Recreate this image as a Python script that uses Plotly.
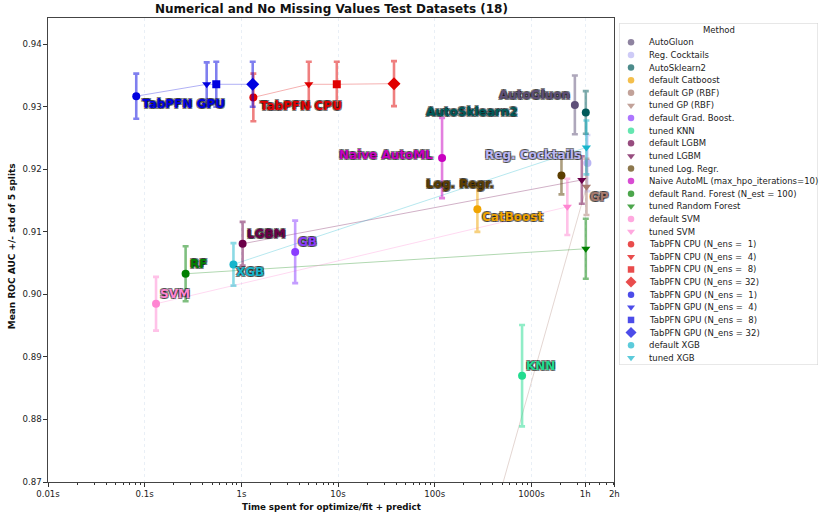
import math
import plotly.graph_objects as go

# ---------------- data ----------------
methods = [
    "AutoGluon", "Reg. Cocktails", "AutoSklearn2", "default Catboost",
    "default GP (RBF)", "tuned GP (RBF)", "default Grad. Boost.", "tuned KNN",
    "default LGBM", "tuned LGBM", "tuned Log. Regr.",
    "Naive AutoML (max_hpo_iterations=10)",
    "default Rand. Forest (N_est = 100)", "tuned Random Forest",
    "default SVM", "tuned SVM",
    "TabPFN CPU (N_ens = \u00a01)", "TabPFN CPU (N_ens = \u00a04)",
    "TabPFN CPU (N_ens = \u00a08)", "TabPFN CPU (N_ens = 32)",
    "TabPFN GPU (N_ens = \u00a01)", "TabPFN GPU (N_ens = \u00a04)",
    "TabPFN GPU (N_ens = \u00a08)", "TabPFN GPU (N_ens = 32)",
    "default XGB", "tuned XGB",
]
times = [
    2812, 3794, 3648, 276,
    230, 3707, 3.6, 800,
    1.03, 3319, 2044,
    119,
    0.265, 3648,
    0.131, 2350,
    1.33, 4.98, 9.7, 37.9,
    0.0818, 0.438, 0.55, 1.31,
    0.828, 3700,
]
aucs = [
    0.9303, 0.9210, 0.9291, 0.9136,
    0.8510, 0.9172, 0.9068, 0.8870,
    0.9081, 0.9183, 0.9190,
    0.9218,
    0.9033, 0.9073,
    0.8985, 0.9140,
    0.9315, 0.9336, 0.9336, 0.9337,
    0.9317, 0.9336, 0.9336, 0.9336,
    0.9048, 0.9235,
]
stds = [
    0.0047, 0.0045, 0.0034, 0.0036,
    0.0050, 0.0045, 0.0050, 0.0081,
    0.0035, 0.0038, 0.0030,
    0.0064,
    0.0044, 0.0048,
    0.0043, 0.0045,
    0.0038, 0.0036, 0.0036, 0.0036,
    0.0036, 0.0035, 0.0036, 0.0036,
    0.0034, 0.0043,
]
colors = [
    "#5e4f78", "#b9b5f3", "#005a5a", "#f0a400",
    "#a87a6e", "#a87a6e", "#8a3cff", "#22dc8f",
    "#6b0049", "#6b0049", "#5b3d00",
    "#c800c0",
    "#008000", "#008000",
    "#ff85d2", "#ff85d2",
    "#e00000", "#e00000", "#e00000", "#e00000",
    "#0000e0", "#0000e0", "#0000e0", "#0000e0",
    "#17b5cc", "#17b5cc",
]
symbols = [
    "circle", "circle", "circle", "circle",
    "circle", "triangle-down", "circle", "circle",
    "circle", "triangle-down", "circle",
    "circle",
    "circle", "triangle-down",
    "circle", "triangle-down",
    "circle", "triangle-down", "square", "diamond",
    "circle", "triangle-down", "square", "diamond",
    "circle", "triangle-down",
]

x_tick_vals = [0.01, 0.1, 1, 10, 100, 1000, 3600, 7200]
x_tick_text = ["0.01s", "0.1s", "1s", "10s", "100s", "1000s", "1h", "2h"]
y_tick_vals = [0.87, 0.88, 0.89, 0.90, 0.91, 0.92, 0.93, 0.94]

pairs = [
    ["default GP (RBF)", "tuned GP (RBF)"],
    ["default LGBM", "tuned LGBM"],
    ["default Rand. Forest (N_est = 100)", "tuned Random Forest"],
    ["default SVM", "tuned SVM"],
    ["default XGB", "tuned XGB"],
    methods[16:20],
    methods[20:24],
]

# point label texts
label_text = {
    "TabPFN GPU (N_ens = \u00a01)": "TabPFN GPU",
    "TabPFN CPU (N_ens = \u00a01)": "TabPFN CPU",
    "AutoGluon": "AutoGluon",
    "AutoSklearn2": "AutoSklearn2",
    "Reg. Cocktails": "Reg. Cocktails",
    "tuned Log. Regr.": "Log. Regr.",
    "default Catboost": "CatBoost",
    "Naive AutoML (max_hpo_iterations=10)": "Naive AutoML",
    "tuned GP (RBF)": "GP",
    "tuned KNN": "KNN",
    "default SVM": "SVM",
    "default Rand. Forest (N_est = 100)": "RF",
    "default XGB": "XGB",
    "default LGBM": "LGBM",
    "default Grad. Boost.": "GB",
}

# ---------------- styling ----------------
FONT = "DejaVu Sans"
# label placement: (xanchor, xshift px, yshift px)
label_style = {
    "TabPFN GPU": ("left", 4, -8),
    "TabPFN CPU": ("left", 5, -9),
    "AutoGluon": ("right", -3, 10),
    "AutoSklearn2": ("right", -66, 0),
    "Reg. Cocktails": ("right", -4, 8),
    "Log. Regr.": ("right", -65, -8),
    "CatBoost": ("left", 3, -8),
    "Naive AutoML": ("right", -7, 3),
    "GP": ("left", 2, -10),
    "KNN": ("left", 2, 10),
    "SVM": ("left", 2, 10),
    "RF": ("left", 2, 10),
    "XGB": ("left", 1, -8),
    "LGBM": ("left", 2, 10),
    "GB": ("left", 1, 10),
}
marker_sizes = {"circle": 8, "triangle-down": 8, "square": 8, "diamond": 10}
legend_marker_sizes = {"circle": 6.5, "triangle-down": 7, "square": 6.5, "diamond": 8.5}


def rgba(hex_color, a):
    h = hex_color.lstrip("#")
    r, g, b = int(h[0:2], 16), int(h[2:4], 16), int(h[4:6], 16)
    return f"rgba({r},{g},{b},{a})"


idx = {m: i for i, m in enumerate(methods)}

fig = go.Figure()

# connecting lines (default -> tuned, TabPFN ensemble chains)
for grp in pairs:
    ii = [idx[m] for m in grp]
    fig.add_trace(go.Scatter(
        x=[times[i] for i in ii], y=[aucs[i] for i in ii],
        mode="lines", line=dict(color=rgba(colors[ii[0]], 0.35), width=0.9),
        showlegend=False, hoverinfo="skip", xaxis="x", yaxis="y",
    ))

# points with error bars
for i, m in enumerate(methods):
    fig.add_trace(go.Scatter(
        x=[times[i]], y=[aucs[i]], mode="markers", name=m,
        marker=dict(color=colors[i], symbol=symbols[i],
                    size=marker_sizes[symbols[i]], line=dict(width=0)),
        error_y=dict(type="data", array=[stds[i]], visible=True,
                     color=rgba(colors[i], 0.5), thickness=2.6, width=3),
        showlegend=False, xaxis="x", yaxis="y",
    ))

annotations = []
shadow = ("-1px -1px 0 rgba(0,0,0,0.5), 1px -1px 0 rgba(0,0,0,0.5), "
          "-1px 1px 0 rgba(0,0,0,0.5), 1px 1px 0 rgba(0,0,0,0.5)")
for m, t in label_text.items():
    i = idx[m]
    xa, xs, ys = label_style[t]
    annotations.append(dict(
        x=math.log10(times[i]), y=aucs[i], xref="x", yref="y", text=t,
        showarrow=False, xanchor=xa, yanchor="middle", xshift=xs, yshift=ys,
        font=dict(family=FONT, size=12, color=colors[i], weight="bold",
                  shadow=shadow),
    ))

# custom legend (x2/y2 axes in the right-hand area, pixel-like units)
LEG_Y0, LEG_DY, LEG_MX, LEG_TX = 19.3, 12.62, 11.8, 28.0
leg_y = [LEG_Y0 + LEG_DY * k for k in range(len(methods))]
fig.add_trace(go.Scatter(
    x=[LEG_MX] * len(methods), y=leg_y, mode="markers",
    marker=dict(color=colors, symbol=symbols,
                size=[legend_marker_sizes[s] for s in symbols], line=dict(width=0)),
    showlegend=False, hoverinfo="skip", xaxis="x2", yaxis="y2", cliponaxis=False,
))
for k, m in enumerate(methods):
    annotations.append(dict(
        x=LEG_TX, y=leg_y[k], xref="x2", yref="y2", text=m, showarrow=False,
        xanchor="left", yanchor="middle",
        font=dict(family=FONT, size=8.5, color="#222"),
    ))
annotations.append(dict(
    x=100, y=7.2, xref="x2", yref="y2", text="Method", showarrow=False,
    xanchor="center", yanchor="middle", font=dict(family=FONT, size=8.5, color="#222"),
))

# titles
annotations.append(dict(
    x=0.3668, y=1.0195, xref="paper", yref="paper", showarrow=False,
    text="Numerical and No Missing Values Test Datasets (18)",
    xanchor="center", yanchor="middle",
    font=dict(family=FONT, size=12, color="#111", weight="bold"),
))
annotations.append(dict(
    x=0.3668, y=-0.053, xref="paper", yref="paper", showarrow=False,
    text="Time spent for optimize/fit + predict",
    xanchor="center", yanchor="middle",
    font=dict(family=FONT, size=8.7, color="#111", weight="bold"),
))
annotations.append(dict(
    x=-0.0463, y=0.5086, xref="paper", yref="paper", showarrow=False,
    text="Mean ROC AUC +/- std of 5 splits", textangle=-90,
    xanchor="center", yanchor="middle",
    font=dict(family=FONT, size=9, color="#111", weight="bold"),
))

minor_vals = [mm * 10 ** e for e in range(-2, 4) for mm in range(2, 10) if mm * 10 ** e < 7200]

fig.update_layout(
    width=830, height=518,
    margin=dict(l=48, r=5, t=18, b=36),
    paper_bgcolor="white", plot_bgcolor="white",
    font=dict(family=FONT, size=8.6, color="#222"),
    showlegend=False,
    annotations=annotations,
    xaxis=dict(
        type="log", domain=[0, 0.7336],
        range=[-2, math.log10(7200)],
        tickvals=x_tick_vals, ticktext=x_tick_text,
        ticks="outside", ticklen=3.5, tickwidth=1, tickcolor="#333",
        showline=True, linecolor="#444", linewidth=1.2, mirror=True,
        showgrid=True, gridcolor="rgba(176,196,222,0.28)", griddash="dot", gridwidth=0.8,
        zeroline=False,
        tickfont=dict(family=FONT, size=8.6, color="#222"),
        minor=dict(tickvals=minor_vals, ticks="outside", ticklen=2,
                   tickcolor="#333", showgrid=False),
    ),
    yaxis=dict(
        range=[0.87, 0.9442], tickvals=y_tick_vals, tickformat=".2f",
        ticks="outside", ticklen=3.5, tickwidth=1, tickcolor="#333",
        showline=True, linecolor="#444", linewidth=1.2, mirror=True,
        showgrid=False, zeroline=False,
        tickfont=dict(family=FONT, size=8.6, color="#222"),
    ),
    xaxis2=dict(domain=[0.74003, 0.99743], range=[0, 200], visible=False,
                fixedrange=True, anchor="y2"),
    yaxis2=dict(domain=[0.25216, 0.98922], range=[342, 0], visible=False,
                fixedrange=True, anchor="x2"),
    shapes=[dict(type="rect", xref="x2", yref="y2", x0=0, x1=200, y0=0, y1=342,
                 line=dict(color="#d0d0d0", width=1), fillcolor="rgba(255,255,255,0.8)",
                 layer="below")],
)

fig.write_html("out.html", config={"displayModeBar": False},
               post_script="document.body.style.margin='0';")
